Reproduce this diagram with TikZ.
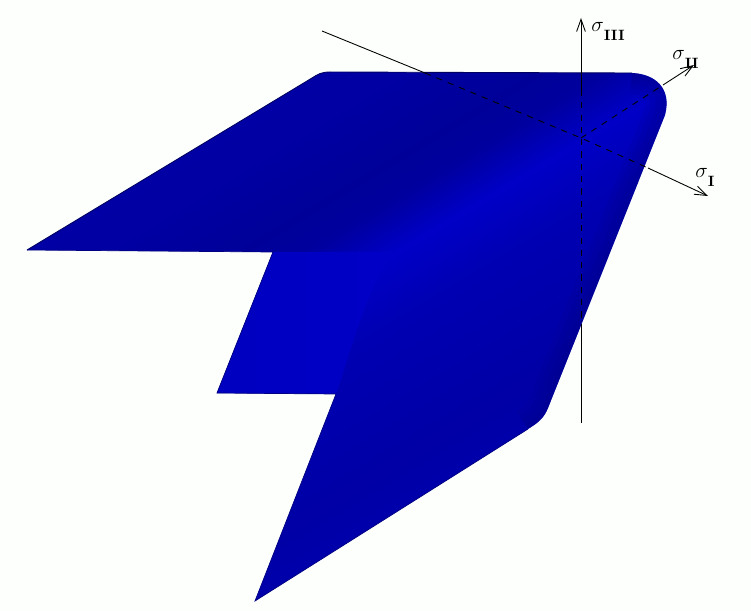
\documentclass[tikz,border=0pt]{standalone}
\usepackage{amsmath}
\usetikzlibrary{arrows.meta}
\definecolor{paperwhite}{HTML}{FCFFFC}
\definecolor{edgeblue}{HTML}{000060}
\definecolor{flapblue}{HTML}{0000C0}
\pgfdeclareverticalshading{ridgeband}{100bp}{
  color(0bp)=(blue!67!black);
  color(33.3bp)=(blue!67!black);
  color(36.5bp)=(blue!65!black);
  color(45.8bp)=(blue!70!black);
  color(50.4bp)=(blue!78!black);
  color(53.9bp)=(blue!62!black);
  color(56.5bp)=(blue!60!black);
  color(62.1bp)=(blue!64!black);
  color(100bp)=(blue!66!black)}
\newcommand{\stresslabel}[1]{$\sigma$\raisebox{-5pt}{\fontsize{8.5}{10}\selectfont\bfseries #1}}
\tikzset{
  axisline/.style={-{Straight Barb[length=7pt,width=5pt]},black,line width=0.5pt},
  solidline/.style={black,line width=0.5pt},
  hiddenline/.style={black,dash pattern=on 3.5pt off 3.5pt,line width=0.5pt},
  sigmalabel/.style={inner sep=0pt,anchor=base west,font=\fontsize{12}{14}\selectfont}
}
\begin{document}
\begin{tikzpicture}[x=0.02cm,y=-0.02cm]
    % Page
    \fill[paperwhite] (0,0) rectangle (751,611);

    % Axis points
    \coordinate (origin) at (581,138);
    \coordinate (topIII) at (581,18);
    \coordinate (inIII) at (581,90);
    \coordinate (outIII) at (581,326);
    \coordinate (footIII) at (581,423);
    \coordinate (tipII) at (694,65);
    \coordinate (outII) at (663,85);
    \coordinate (tipI) at (708,196);
    \coordinate (outI) at (648,168);
    \coordinate (backI) at (322,31);
    \coordinate (inI) at (425,73);

    % Surface
    \begin{scope}
        \clip (27,250) -- (312,78) .. controls (318,74) and (322,72) .. (330,72)
            -- (632,73) .. controls (655,74) and (672,88) .. (665,115)
            -- (548,408) .. controls (544,418) and (538,423) .. (528,429)
            -- (255,601) -- (336,394) -- (217,393) -- (273,252) -- cycle;
        \begin{scope}[transform canvas={rotate=31}]
            \shade[shading=ridgeband] (-600,100) rectangle (1200,750);
        \end{scope}
        % Back flap
        \shade[left color=flapblue,right color=blue!78!black]
            (273,252) -- (217,393) -- (336,394) .. controls (352,350) and (362,300) .. (392,252) -- cycle;
        % Darker rim on the right
        \foreach \rim in {6,12,18,24}
            \draw[blue!50!black,opacity=0.12,line width=\rim pt] (632,73) .. controls (655,74) and (672,88) .. (665,115)
                -- (548,408) .. controls (544,418) and (538,423) .. (528,429);
    \end{scope}
    \draw[edgeblue,line width=0.5pt] (27,250) -- (312,78) .. controls (318,74) and (322,72) .. (330,72)
            -- (632,73);
    \draw[blue!50!black,line width=0.4pt] (27,250) -- (273,252) -- (217,393) -- (336,394) -- (255,601) -- (528,429);

    % Axes
    \draw[hiddenline] (inI) -- (origin) -- (outI);
    \draw[hiddenline] (origin) -- (outII);
    \draw[hiddenline] (inIII) -- (origin) -- (outIII);
    \draw[solidline] (backI) -- (inI);
    \draw[solidline] (outIII) -- (footIII);
    \draw[axisline] (inIII) -- (topIII);
    \draw[axisline] (outII) -- (tipII);
    \draw[axisline] (outI) -- (tipI);

    % Labels
    \node[sigmalabel] (labelIII) at (591,32) {\stresslabel{III}};
    \node[sigmalabel] (labelII) at (672,60) {\stresslabel{II}};
    \node[sigmalabel] (labelI) at (695,178) {\stresslabel{I}};

    \useasboundingbox (0,0) rectangle (751,611);
\end{tikzpicture}
\end{document}
